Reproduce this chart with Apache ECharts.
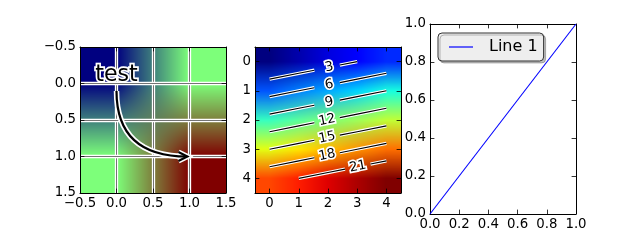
<!DOCTYPE html>
<html>
<head>
<meta charset="utf-8">
<script src="https://cdn.jsdelivr.net/npm/echarts@6/dist/echarts.min.js"></script>
<style>html,body{margin:0;padding:0;background:#fff;}#c{width:640px;height:240px;}</style>
</head>
<body>
<div id="c"></div>
<script>
// ---------- data ----------
const image1 = [[1, 2], [2, 3]];
const image2 = [
  [0, 1, 2, 3, 4],
  [5, 6, 7, 8, 9],
  [10, 11, 12, 13, 14],
  [15, 16, 17, 18, 19],
  [20, 21, 22, 23, 24]
];
const contourLevels = [3, 6, 9, 12, 15, 18, 21];
const contourLabelX = [1.97, 1.97, 1.97, 1.97, 1.97, 1.97, 3.02];
const annotText = 'test';
const annotFrom = [0, 0];
const annotTo = [1, 1];
const line1X = [0, 1];
const line1Y = [0, 1];
const lineName = 'Line 1';
const ticks1 = [-0.5, 0, 0.5, 1, 1.5];
const ticks2 = [0, 1, 2, 3, 4];
const ticks3 = [0, 0.2, 0.4, 0.6, 0.8, 1.0];

// ---------- helpers ----------
const FONT = 'DejaVu Sans';
const JET = {
  r: [[0, 0], [0.35, 0], [0.66, 1], [0.89, 1], [1, 0.5]],
  g: [[0, 0], [0.125, 0], [0.375, 1], [0.64, 1], [0.91, 0], [1, 0]],
  b: [[0, 0.5], [0.11, 1], [0.34, 1], [0.65, 0], [1, 0]]
};
function segVal(s, t) {
  for (let i = 0; i < s.length - 1; i++) {
    if (t <= s[i + 1][0]) {
      const f = (t - s[i][0]) / (s[i + 1][0] - s[i][0]);
      return s[i][1] + f * (s[i + 1][1] - s[i][1]);
    }
  }
  return s[s.length - 1][1];
}
function jet(t) {
  const idx = Math.max(0, Math.min(255, Math.floor(t * 256)));
  const u = idx / 255;
  return [segVal(JET.r, u), segVal(JET.g, u), segVal(JET.b, u)].map(v => v * 255);
}
// colour-map each cell, then resample (bilinear in RGB, like the reference renderer)
function makeCanvas(m, S) {
  let vmin = Infinity, vmax = -Infinity;
  m.forEach(r => r.forEach(v => { vmin = Math.min(vmin, v); vmax = Math.max(vmax, v); }));
  const rows = m.length, cols = m[0].length;
  const cols_rgb = m.map(r => r.map(v => jet((v - vmin) / (vmax - vmin))));
  const W = cols * S, H = rows * S;
  const cv = document.createElement('canvas');
  cv.width = W; cv.height = H;
  const ctx = cv.getContext('2d');
  const id = ctx.createImageData(W, H);
  for (let py = 0; py < H; py++) {
    let v = (py + 0.5) / S - 0.5; v = Math.max(0, Math.min(rows - 1, v));
    const r0 = Math.min(rows - 2, Math.floor(v)), fv = v - r0;
    for (let px = 0; px < W; px++) {
      let u = (px + 0.5) / S - 0.5; u = Math.max(0, Math.min(cols - 1, u));
      const c0 = Math.min(cols - 2, Math.floor(u)), fu = u - c0;
      const a = cols_rgb[r0][c0], b = cols_rgb[r0][c0 + 1], c = cols_rgb[r0 + 1][c0], d = cols_rgb[r0 + 1][c0 + 1];
      const k = (py * W + px) * 4;
      for (let ch = 0; ch < 3; ch++) {
        const top = a[ch] + (b[ch] - a[ch]) * fu;
        const bot = c[ch] + (d[ch] - c[ch]) * fu;
        id.data[k + ch] = Math.round(top + (bot - top) * fv);
      }
      id.data[k + 3] = 255;
    }
  }
  ctx.putImageData(id, 0, 0);
  return cv;
}
const canvas1 = makeCanvas(image1, 73);
const canvas2 = makeCanvas(image2, 30);

function imageSeries(m, cv, axisIndex) {
  const rows = m.length, cols = m[0].length;
  return {
    type: 'custom', xAxisIndex: axisIndex, yAxisIndex: axisIndex, z: 2, silent: true,
    data: [[0, 0]],
    renderItem: function (params, api) {
      const p0 = api.coord([-0.5, -0.5]);
      const p1 = api.coord([cols - 0.5, rows - 0.5]);
      return {
        type: 'image',
        style: {
          image: cv,
          x: Math.min(p0[0], p1[0]), y: Math.min(p0[1], p1[1]),
          width: Math.abs(p1[0] - p0[0]), height: Math.abs(p1[1] - p0[1])
        }
      };
    }
  };
}

function contourPoints(m, L) {
  const pts = [];
  const R = m.length, C = m[0].length;
  const add = (x, y) => {
    if (!pts.some(p => Math.abs(p[0] - x) < 1e-9 && Math.abs(p[1] - y) < 1e-9)) pts.push([x, y]);
  };
  for (let r = 0; r < R; r++) for (let c = 0; c < C; c++) {
    const a = m[r][c];
    if (a === L) add(c, r);
    if (c + 1 < C) { const b = m[r][c + 1]; if ((a - L) * (b - L) < 0) add(c + (L - a) / (b - a), r); }
    if (r + 1 < R) { const b = m[r + 1][c]; if ((a - L) * (b - L) < 0) add(c, r + (L - a) / (b - a)); }
  }
  pts.sort((p, q) => p[0] - q[0]);
  return pts;
}
function lerp(a, b, f) { return [a[0] + (b[0] - a[0]) * f, a[1] + (b[1] - a[1]) * f]; }

const contourData = contourLevels.map((L, i) => [L, contourLabelX[i]]);

// ---------- axes ----------
function fmt1(v) { return v.toFixed(1).replace('-', '\u2212'); }
function fmt0(v) { return String(Math.round(v)); }
function mkAxis(o) {
  const a = {
    type: 'value', gridIndex: o.g, position: o.pos, min: o.min, max: o.max,
    inverse: !!o.inv, z: o.z || 3,
    axisLine: { show: true, onZero: false, lineStyle: { color: '#000', width: 1 } },
    axisTick: { show: true, inside: true, length: 4.4, lineStyle: { color: '#000', width: 0.8 }, customValues: o.ticks },
    axisLabel: { show: !!o.labels, margin: 4, color: '#000', fontFamily: FONT, fontSize: 13.3, formatter: o.fmt, customValues: o.ticks },
    splitLine: o.split ? { show: true, showMinLine: false, showMaxLine: false, lineStyle: o.split } : { show: false }
  };
  if (o.interval) a.interval = o.interval;
  return a;
}
const whiteGrid = { color: '#ffffff', width: 3.3 };
const blackGrid = { color: '#000000', width: 0.55 };

const xAxes = [
  mkAxis({ g: 0, pos: 'bottom', min: -0.5, max: 1.5, interval: 0.5, ticks: ticks1, labels: true, fmt: fmt1, split: whiteGrid, z: 3 }),
  mkAxis({ g: 0, pos: 'top', min: -0.5, max: 1.5, interval: 0.5, ticks: ticks1, labels: false, split: blackGrid, z: 4 }),
  mkAxis({ g: 1, pos: 'bottom', min: -0.5, max: 4.5, ticks: ticks2, labels: true, fmt: fmt0 }),
  mkAxis({ g: 1, pos: 'top', min: -0.5, max: 4.5, ticks: ticks2, labels: false }),
  mkAxis({ g: 2, pos: 'bottom', min: 0, max: 1, interval: 0.2, ticks: ticks3, labels: true, fmt: fmt1 }),
  mkAxis({ g: 2, pos: 'top', min: 0, max: 1, interval: 0.2, ticks: ticks3, labels: false })
];
const yAxes = [
  mkAxis({ g: 0, pos: 'left', min: -0.5, max: 1.5, interval: 0.5, inv: true, ticks: ticks1, labels: true, fmt: fmt1, split: whiteGrid, z: 5 }),
  mkAxis({ g: 0, pos: 'right', min: -0.5, max: 1.5, interval: 0.5, inv: true, ticks: ticks1, labels: false, split: blackGrid, z: 6 }),
  mkAxis({ g: 1, pos: 'left', min: -0.5, max: 4.5, inv: true, ticks: ticks2, labels: true, fmt: fmt0 }),
  mkAxis({ g: 1, pos: 'right', min: -0.5, max: 4.5, inv: true, ticks: ticks2, labels: false }),
  mkAxis({ g: 2, pos: 'left', min: 0, max: 1, interval: 0.2, ticks: ticks3, labels: true, fmt: fmt1 }),
  mkAxis({ g: 2, pos: 'right', min: 0, max: 1, interval: 0.2, ticks: ticks3, labels: false })
];

// ---------- series ----------
const annotSeries = {
  type: 'custom', xAxisIndex: 0, yAxisIndex: 0, z: 10, silent: true,
  data: [[annotFrom[0], annotFrom[1], annotTo[0], annotTo[1]]],
  encode: { x: [0, 2], y: [1, 3] },
  renderItem: function (params, api) {
    const t = api.coord([api.value(0), api.value(1)]);
    const e = api.coord([api.value(2), api.value(3)]);
    const fs = 22.2;
    const start = [t[0], t[1] + fs * 0.236 + 2.2];
    const end = [e[0] - 2.2, e[1]];
    const cp = [start[0], end[1]];
    let dx = end[0] - cp[0], dy = end[1] - cp[1];
    const len = Math.hypot(dx, dy); dx /= len; dy /= len;
    const nx = -dy, ny = dx, HL = 8.9, HW = 4.4;
    const head = [
      [end[0] - HL * dx + HW * nx, end[1] - HL * dy + HW * ny],
      [end[0], end[1]],
      [end[0] - HL * dx - HW * nx, end[1] - HL * dy - HW * ny]
    ];
    const curve = { x1: start[0], y1: start[1], x2: end[0], y2: end[1], cpx1: cp[0], cpy1: cp[1] };
    return {
      type: 'group',
      children: [
        { type: 'bezierCurve', shape: curve, style: { stroke: '#fff', lineWidth: 5.5, fill: null } },
        { type: 'polyline', shape: { points: head }, style: { stroke: '#fff', lineWidth: 5.5, fill: null, lineJoin: 'miter' } },
        { type: 'bezierCurve', shape: curve, style: { stroke: '#000', lineWidth: 2.2, fill: null } },
        { type: 'polyline', shape: { points: head }, style: { stroke: '#000', lineWidth: 2.2, fill: null, lineJoin: 'miter' } },
        { type: 'text', x: t[0], y: t[1] - fs * 0.35,
          style: { text: annotText, fontSize: fs, fontFamily: FONT, fill: '#000', stroke: '#fff', lineWidth: 3.3, align: 'center', verticalAlign: 'middle' } }
      ]
    };
  }
};

const contourSeries = {
  type: 'custom', xAxisIndex: 2, yAxisIndex: 2, z: 10, silent: true,
  data: contourData,
  encode: { x: 1, y: 0 },
  renderItem: function (params, api) {
    const L = api.value(0), lx = api.value(1);
    const dpts = contourPoints(image2, L);
    if (dpts.length < 2) return null;
    const px = dpts.map(p => api.coord(p));
    let k = 0;
    while (k < dpts.length - 2 && dpts[k + 1][0] < lx) k++;
    const f = (lx - dpts[k][0]) / (dpts[k + 1][0] - dpts[k][0]);
    const lp = api.coord(lerp(dpts[k], dpts[k + 1], f));
    const cum = [0];
    for (let i = 1; i < px.length; i++) cum.push(cum[i - 1] + Math.hypot(px[i][0] - px[i - 1][0], px[i][1] - px[i - 1][1]));
    const s0 = cum[k] + f * (cum[k + 1] - cum[k]);
    const g = 13;
    const at = (s) => {
      let j = 0;
      while (j < px.length - 2 && cum[j + 1] < s) j++;
      const ff = (s - cum[j]) / (cum[j + 1] - cum[j]);
      return lerp(px[j], px[j + 1], Math.max(0, Math.min(1, ff)));
    };
    const parts = [];
    const a = s0 - g, b = s0 + g;
    if (a > 0) { const p = []; for (let i = 0; i < px.length && cum[i] < a; i++) p.push(px[i]); p.push(at(a)); parts.push(p); }
    if (b < cum[cum.length - 1]) { const p = [at(b)]; for (let i = 0; i < px.length; i++) if (cum[i] > b) p.push(px[i]); parts.push(p); }
    const ddx = px[k + 1][0] - px[k][0], ddy = px[k + 1][1] - px[k][1];
    const rot = -Math.atan2(ddy, ddx);
    const children = [];
    parts.forEach(p => children.push({ type: 'polyline', shape: { points: p }, style: { stroke: '#fff', lineWidth: 3.3, fill: null } }));
    parts.forEach(p => children.push({ type: 'polyline', shape: { points: p }, style: { stroke: '#000', lineWidth: 1.1, fill: null } }));
    const label = String(Math.round(L)).padStart(2, ' ');
    children.push({ type: 'text', x: lp[0], y: lp[1], rotation: rot,
      style: { text: label, fontSize: 13.3, fontFamily: FONT, fill: '#000', stroke: '#fff', lineWidth: 3.3, align: 'center', verticalAlign: 'middle' } });
    return { type: 'group', children: children };
  }
};

const lineSeries = {
  type: 'line', name: lineName, xAxisIndex: 4, yAxisIndex: 4, z: 5,
  data: line1X.map((x, i) => [x, line1Y[i]]),
  symbol: 'none', showSymbol: false, animation: false,
  lineStyle: { color: '#0000ff', width: 1.1 }, itemStyle: { color: '#0000ff' }
};

const option = {
  animation: false,
  backgroundColor: '#ffffff',
  textStyle: { fontFamily: FONT },
  grid: [
    { left: 80, top: 47, width: 146, height: 146, outerBoundsMode: 'none', containLabel: false },
    { left: 255, top: 47, width: 146, height: 146, outerBoundsMode: 'none', containLabel: false },
    { left: 430, top: 24, width: 146, height: 190, outerBoundsMode: 'none', containLabel: false }
  ],
  xAxis: xAxes,
  yAxis: yAxes,
  legend: {
    left: 438, top: 33, orient: 'vertical', selectedMode: false,
    padding: [6, 6, 6, 11], itemWidth: 24, itemHeight: 16,
    backgroundColor: '#eeeeee', borderColor: '#333333', borderWidth: 1, borderRadius: 4,
    shadowColor: 'rgba(0,0,0,0.25)', shadowOffsetX: 2, shadowOffsetY: 2, shadowBlur: 0,
    textStyle: { fontFamily: FONT, fontSize: 16, color: '#000', padding: [0, 0, 0, 11] },
    data: [{ name: lineName, icon: 'path://M0,7.4 L24,7.4 L24,8.6 L0,8.6 Z' }]
  },
  series: [
    imageSeries(image1, canvas1, 0),
    annotSeries,
    imageSeries(image2, canvas2, 2),
    contourSeries,
    lineSeries
  ]
};
const chart = echarts.init(document.getElementById('c'), null, { renderer: 'canvas' });
chart.setOption(option);
</script>
</body>
</html>
